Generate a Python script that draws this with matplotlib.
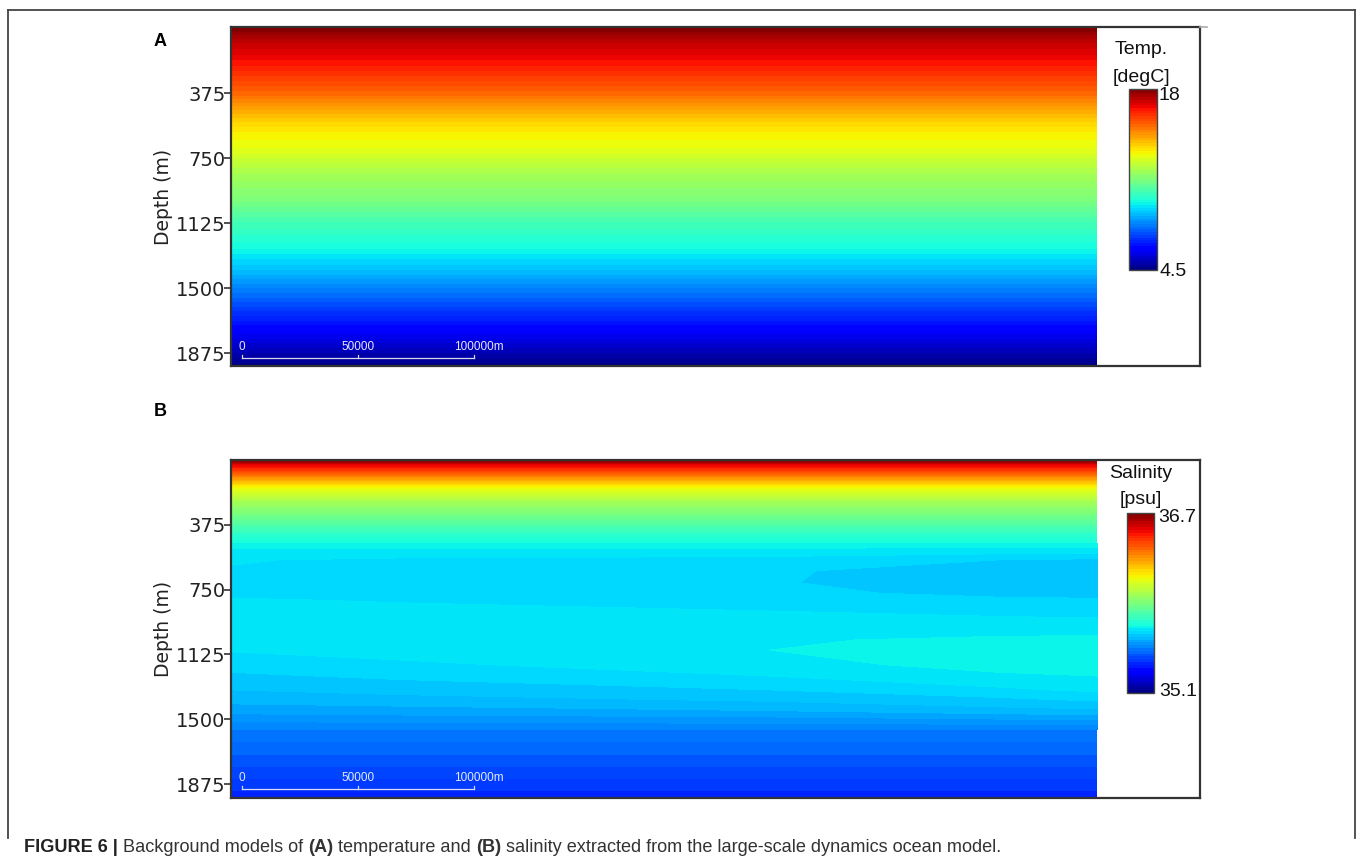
import numpy as np
import matplotlib
matplotlib.use("Agg")
import matplotlib.pyplot as plt
from matplotlib.lines import Line2D

# ---------------------------------------------------------------------------
# Background fields (depth in m, horizontal distance in m)
# ---------------------------------------------------------------------------
temp_depth = [0, 70, 200, 390, 490, 590, 705, 830, 990, 1110, 1280, 1400,
              1545, 1690, 1860, 1960]
temp_values = [18.0, 17.3, 16.5, 15.2, 14.2, 13.4, 12.9, 12.0, 11.25, 10.4,
               9.5, 8.7, 7.6, 6.5, 5.2, 4.5]
temp_x = [0, 373300]

sal_x = [0, 72800, 232300, 331400, 373300]
sal_depth = [0, 30, 60, 100, 160, 240, 330, 420, 500, 577, 640, 710, 770,
             810, 905, 980, 1040, 1100, 1185, 1250, 1330, 1385, 1450, 1560,
             1735, 1960]
sal_values = [
    [36.70, 36.70, 36.70, 36.70, 36.70],
    [36.55, 36.55, 36.55, 36.55, 36.55],
    [36.45, 36.45, 36.45, 36.45, 36.45],
    [36.32, 36.32, 36.32, 36.32, 36.32],
    [36.12, 36.12, 36.12, 36.12, 36.12],
    [35.98, 35.98, 35.98, 35.98, 35.98],
    [35.87, 35.87, 35.87, 35.87, 35.87],
    [35.76, 35.76, 35.76, 35.76, 35.76],
    [35.68, 35.68, 35.68, 35.68, 35.68],
    [35.652, 35.645, 35.640, 35.625, 35.620],
    [35.648, 35.632, 35.630, 35.605, 35.600],
    [35.640, 35.628, 35.628, 35.605, 35.600],
    [35.645, 35.638, 35.634, 35.615, 35.610],
    [35.652, 35.648, 35.640, 35.632, 35.630],
    [35.662, 35.660, 35.655, 35.650, 35.648],
    [35.668, 35.667, 35.665, 35.665, 35.665],
    [35.660, 35.665, 35.672, 35.680, 35.682],
    [35.652, 35.660, 35.675, 35.690, 35.695],
    [35.635, 35.645, 35.665, 35.685, 35.690],
    [35.620, 35.630, 35.650, 35.670, 35.675],
    [35.600, 35.610, 35.625, 35.645, 35.655],
    [35.585, 35.590, 35.605, 35.620, 35.630],
    [35.560, 35.565, 35.575, 35.590, 35.595],
    [35.50, 35.50, 35.50, 35.50, 35.50],
    [35.44, 35.44, 35.44, 35.44, 35.44],
    [35.36, 35.36, 35.36, 35.36, 35.36],
]

depth_ticks = [375, 750, 1125, 1500, 1875]
temp_range = (4.5, 18.0)
sal_range = (35.1, 36.7)
scale_ticks = [0, 50000, 100000]
scale_labels = ["0", "50000", "100000m"]

# ---------------------------------------------------------------------------
W, H = 1357, 860
fig = plt.figure(figsize=(W / 100, H / 100), dpi=100)
fig.patch.set_facecolor("white")


def fx(px):
    return px / W


def fy(py):
    return 1 - py / H


def box(left, top, right, bottom):
    return [fx(left), fy(bottom), fx(right) - fx(left), fy(top) - fy(bottom)]


px_per_m = 116 / 50000.0
x_full = (1200 - 231) / px_per_m
scale_x0 = (242 - 231) / px_per_m

edge = "#333333"
label_font = "DejaVu Sans"
cb_font = "Liberation Sans"


def make_panel(rect, X, D, F, levels, vrange, ylim, letter, letter_y,
               cb_rect, title_lines, title_y, lab_hi, lab_hi_y, lab_lo,
               lab_lo_y):
    ax = fig.add_axes(rect)
    cs = ax.contourf(X, D, F, levels=levels, cmap="jet",
                     vmin=vrange[0], vmax=vrange[1], antialiased=False)
    ax.set_xlim(0, x_full)
    ax.set_ylim(*ylim)
    ax.set_yticks(depth_ticks)
    ax.set_yticklabels([str(t) for t in depth_ticks], fontsize=14,
                       family=label_font, color="#222222")
    ax.set_xticks([])
    ax.tick_params(axis="y", length=5, width=1.2, color=edge, pad=-1)
    for sp in ax.spines.values():
        sp.set_color(edge)
        sp.set_linewidth(1.6)
    ax.set_ylabel("Depth (m)", fontsize=13.5, family=label_font,
                  color="#222222", labelpad=2)

    # distance scale bar
    bar_y = 1902
    xs = [scale_x0 + t for t in scale_ticks]
    ax.plot([xs[0], xs[-1]], [bar_y, bar_y], color="#d8d8f0", lw=0.9)
    for xv in xs:
        ax.plot([xv, xv], [bar_y, bar_y - 14], color="#d8d8f0", lw=0.9)
    for xv, lab in zip(xs, scale_labels):
        off = 5.0 / px_per_m if lab.endswith("m") else 0
        ax.text(xv + off, 1843, lab, ha="center", va="center", fontsize=8.5,
                color="#e8e8ff", family="Liberation Sans")

    fig.text(fx(160), fy(letter_y), letter, fontsize=13, fontweight="bold",
             family="Liberation Sans", ha="center", va="center",
             color="black")

    cax = fig.add_axes(cb_rect)
    cb = fig.colorbar(cs, cax=cax, ticks=[])
    cb.outline.set_edgecolor("#444444")
    cb.outline.set_linewidth(1.0)
    for txt, ty in zip(title_lines, title_y):
        fig.text(fx(1141), fy(ty), txt, fontsize=14, family=cb_font,
                 ha="center", va="center", color="#111111")
    fig.text(fx(1158), fy(lab_hi_y), lab_hi, fontsize=14, family=cb_font,
             ha="left", va="center", color="#111111")
    fig.text(fx(1159), fy(lab_lo_y), lab_lo, fontsize=14, family=cb_font,
             ha="left", va="center", color="#111111")
    return ax


# Temperature panel
TX, TD = np.meshgrid(temp_x, temp_depth)
TF = np.repeat(np.array(temp_values)[:, None], len(temp_x), axis=1)
t_levels = np.linspace(temp_range[0], temp_range[1], 68)
make_panel(box(231, 27, 1200, 366), TX, TD, TF, t_levels, temp_range,
           (1950, -6), "A", 42, box(1129, 89, 1157, 270),
           ["Temp.", "[degC]"], [50, 77], "18", 95, "4.5", 272)

# Salinity panel
SX, SD = np.meshgrid(sal_x, sal_depth)
SF = np.array(sal_values)
s_levels = np.linspace(sal_range[0], sal_range[1], 65)
make_panel(box(231, 460, 1200, 798), SX, SD, SF, s_levels, sal_range,
           (1956, -1), "B", 412, box(1127, 513, 1154, 693),
           ["Salinity", "[psu]"], [473, 499], "36.7", 518, "35.1", 692)

# Figure frame
frame = dict(color="#444444", lw=1.3, transform=fig.transFigure)
fig.lines.append(Line2D([fx(8), fx(1355)], [fy(10), fy(10)], **frame))
fig.lines.append(Line2D([fx(8), fx(8)], [fy(10), fy(838)], **frame))
fig.lines.append(Line2D([fx(1355), fx(1355)], [fy(10), fy(838)], **frame))
fig.lines.append(Line2D([fx(1200), fx(1207)], [fy(27), fy(27)],
                        color="#aaaaaa", lw=1.2, transform=fig.transFigure))

# Caption, sized so that it spans the same width as the figure text block
cap_font = ["Liberation Sans Narrow", "Liberation Sans"]
parts = [("FIGURE 6 | ", "bold", "#222222"),
         ("Background models of ", "normal", "#333333"),
         ("(A)", "bold", "#333333"),
         (" temperature and ", "normal", "#333333"),
         ("(B)", "bold", "#333333"),
         (" salinity extracted from the large-scale dynamics ocean model.",
          "normal", "#333333")]
fig.canvas.draw()
renderer = fig.canvas.get_renderer()


def place_caption(size, x0=24):
    items, xpos = [], x0
    for txt, wt, col in parts:
        t = fig.text(fx(xpos), fy(848), txt, fontsize=size, fontweight=wt,
                     family=cap_font, ha="left", va="center", color=col)
        xpos += t.get_window_extent(renderer=renderer).width
        items.append(t)
    return items, xpos - x0


items, width = place_caption(11.5)
for t in items:
    t.remove()
place_caption(11.5 * 979.0 / width)

fig.savefig("out.png", dpi=100)
